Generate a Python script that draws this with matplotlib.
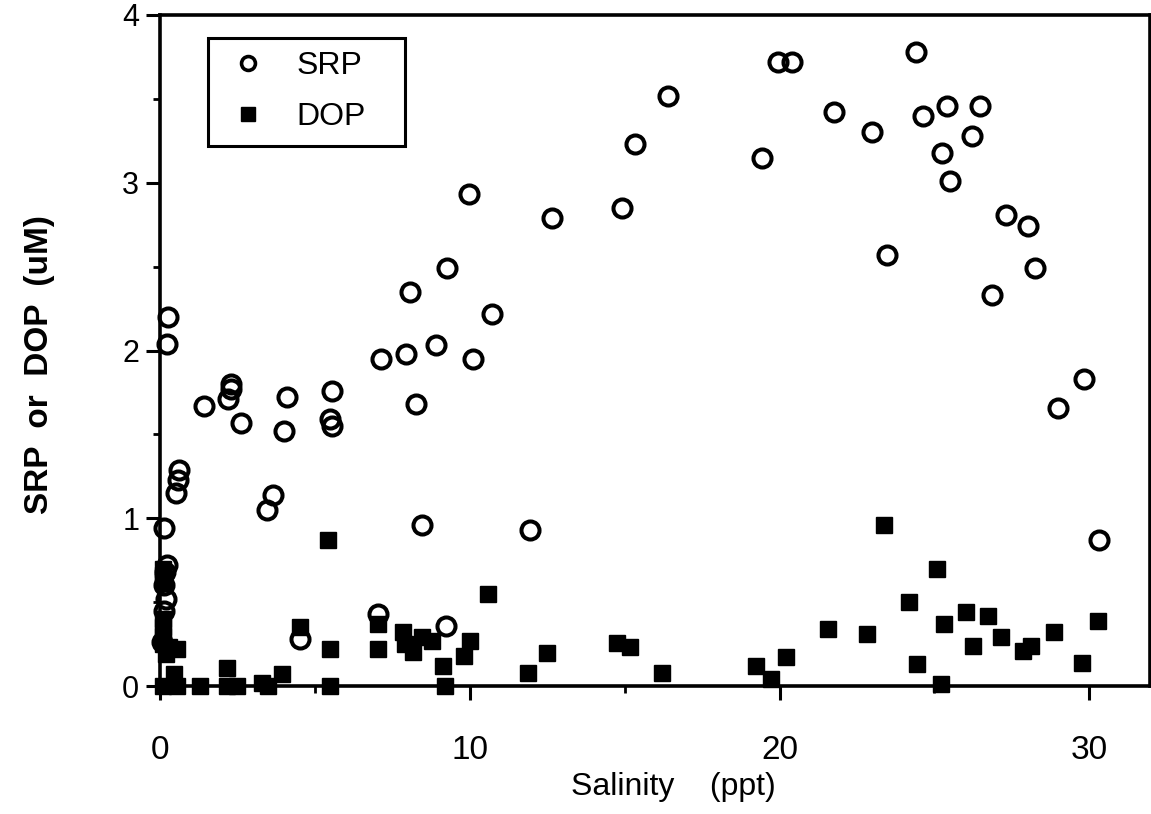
import matplotlib
matplotlib.use("Agg")
import matplotlib.pyplot as plt
from matplotlib.patches import Rectangle
from matplotlib.lines import Line2D
from matplotlib.ticker import MultipleLocator

plt.rcParams['font.family'] = ['Liberation Sans', 'DejaVu Sans']

# Soluble reactive phosphorus (open circles)
srp_sal = [0.14, 0.21, 0.15, 0.12, 0.20, 0.12, 0.05,
           0.25, 0.22, 0.52, 0.59, 0.62,
           1.42, 2.21, 2.29, 2.29, 2.63, 3.44, 3.66, 4.01, 4.11, 4.52,
           5.49, 5.56, 5.56, 7.05, 7.15, 7.93, 8.06, 8.25, 8.47, 8.90,
           9.22, 9.27, 9.97, 10.09, 10.73, 11.94, 12.66, 14.90, 15.35,
           16.41, 19.42, 19.96, 20.39, 21.77, 22.97, 23.46, 24.39, 24.64,
           25.24, 25.42, 25.49, 26.20, 26.47, 26.85, 27.31, 28.01, 28.24,
           28.98, 29.84, 30.31]
srp_val = [0.94, 0.72, 0.68, 0.60, 0.52, 0.45, 0.26,
           2.20, 2.04, 1.15, 1.23, 1.29,
           1.67, 1.71, 1.80, 1.77, 1.57, 1.05, 1.14, 1.52, 1.72, 0.28,
           1.59, 1.55, 1.76, 0.43, 1.95, 1.98, 2.35, 1.68, 0.96, 2.03,
           0.36, 2.49, 2.93, 1.95, 2.22, 0.93, 2.79, 2.85, 3.23,
           3.52, 3.15, 3.72, 3.72, 3.42, 3.30, 2.57, 3.78, 3.40,
           3.18, 3.46, 3.01, 3.28, 3.46, 2.33, 2.81, 2.74, 2.49,
           1.66, 1.83, 0.87]

# Dissolved organic phosphorus (filled squares)
dop_sal = [0.10, 0.10, 0.10, 0.10, 0.10, 0.10, 0.10, 0.20, 0.55, 0.30,
           0.45, 0.10, 0.55, 1.29, 2.15, 2.15, 2.50, 3.30, 3.50, 3.95,
           4.52, 5.43, 5.49, 5.49, 7.05, 7.05, 7.86, 7.91, 8.18, 8.45,
           8.77, 9.12, 9.20, 9.82, 10.00, 10.60, 11.89, 12.48, 14.74,
           15.17, 16.19, 19.24, 19.74, 20.21, 21.57, 22.81, 23.37, 24.19,
           24.45, 25.09, 25.21, 25.32, 26.02, 26.25, 26.72, 27.15, 27.85,
           28.11, 28.87, 29.75, 30.29]
dop_val = [0.70, 0.66, 0.62, 0.40, 0.35, 0.30, 0.25, 0.19, 0.22, 0.23,
           0.07, 0.00, 0.00, 0.00, 0.11, 0.00, 0.00, 0.02, 0.00, 0.07,
           0.35, 0.87, 0.22, 0.00, 0.37, 0.22, 0.32, 0.25, 0.20, 0.29,
           0.27, 0.12, 0.00, 0.18, 0.27, 0.55, 0.08, 0.195, 0.255,
           0.235, 0.076, 0.12, 0.04, 0.17, 0.34, 0.31, 0.96, 0.50,
           0.13, 0.70, 0.01, 0.37, 0.44, 0.24, 0.42, 0.29, 0.21,
           0.24, 0.32, 0.14, 0.39]

x_ticks = [0, 10, 20, 30]
y_ticks = [0, 1, 2, 3, 4]

fig = plt.figure(figsize=(11.51, 8.14), dpi=100)
ax = fig.add_axes([160 / 1151, 128 / 814, 990 / 1151, 671 / 814])

ax.plot(dop_sal, dop_val, linestyle='none', marker='s', markersize=11,
        markerfacecolor='black', markeredgecolor='black', clip_on=False, zorder=3)
ax.plot(srp_sal, srp_val, linestyle='none', marker='o', markersize=13,
        markerfacecolor='none', markeredgecolor='black', markeredgewidth=2.9,
        clip_on=False, zorder=4)

ax.set_xlim(0, 31.96)
ax.set_ylim(0, 4)
ax.set_xticks(x_ticks)
ax.set_yticks(y_ticks)
ax.xaxis.set_minor_locator(MultipleLocator(5))
ax.yaxis.set_minor_locator(MultipleLocator(0.5))

for s in ax.spines.values():
    s.set_linewidth(2.6)
    s.set_color('black')

ax.tick_params(axis='both', which='major', direction='out', length=10, width=2.2,
               colors='black')
ax.tick_params(axis='both', which='minor', direction='out', length=5, width=2.0)
ax.tick_params(axis='y', which='major', labelsize=22, pad=5)
ax.tick_params(axis='x', which='major', labelsize=24, pad=25)

fig.text(673 / 1151, 1 - 787 / 814, 'Salinity    (ppt)', ha='center', va='center',
         fontsize=23)
fig.text(40 / 1151, 1 - 365 / 814, 'SRP  or  DOP  (uM)', ha='center', va='center',
         rotation=90, fontsize=24, fontweight='bold')

# Legend with its own box
ax.add_patch(Rectangle(((208 - 160) / 990, (686 - 146) / 671), 197 / 990, 108 / 671,
                       transform=ax.transAxes, fill=False, edgecolor='black',
                       linewidth=2.2, clip_on=False, zorder=5))
handles = [
    Line2D([], [], linestyle='none', marker='o', markersize=10,
           markerfacecolor='none', markeredgecolor='black', markeredgewidth=2.6),
    Line2D([], [], linestyle='none', marker='s', markersize=10,
           markerfacecolor='black', markeredgecolor='black'),
]
leg = ax.legend(handles, ['SRP', 'DOP'], loc='upper left',
                bbox_to_anchor=((208 - 160) / 990, (686 - 40) / 671),
                frameon=False, fontsize=23, handlelength=1.8, handletextpad=0.63,
                labelspacing=0.66, borderpad=0.35, borderaxespad=0.0)

fig.savefig('out.png', dpi=100)
